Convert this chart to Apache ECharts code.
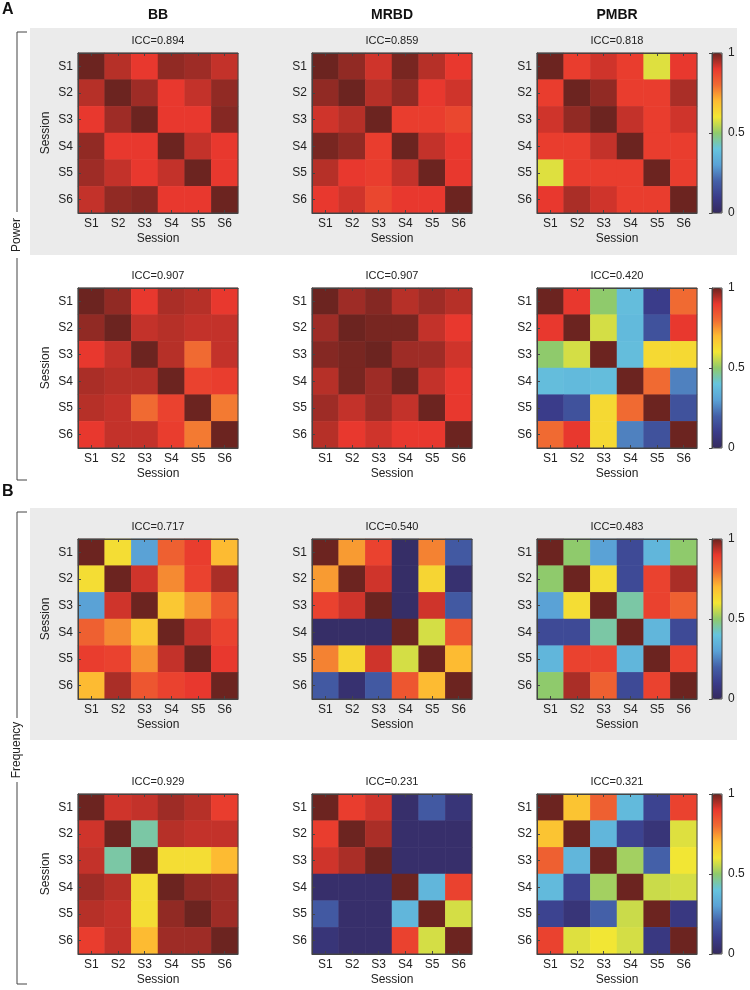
<!DOCTYPE html>
<html><head><meta charset="utf-8">
<script src="https://cdn.jsdelivr.net/npm/echarts@6/dist/echarts.min.js"></script>
<style>html,body{margin:0;padding:0;background:#fff}#c{width:750px;height:990px}</style>
</head><body><div id="c"></div>
<script>
const sessions = ['S1','S2','S3','S4','S5','S6'];
const methods = ['BB','MRBD','PMBR'];
const colorbarTicks = [0, 0.5, 1];

// Row titles (ICC)
const iccPowerTop = ['0.894','0.859','0.818'];
const iccPowerBottom = ['0.907','0.907','0.420'];
const iccFreqTop = ['0.717','0.540','0.483'];
const iccFreqBottom = ['0.929','0.231','0.321'];

// Power, top row
const powerTopBB = [
 [1.00,0.94,0.90,0.97,0.96,0.93],
 [0.94,1.00,0.96,0.90,0.93,0.97],
 [0.90,0.96,1.00,0.90,0.90,0.98],
 [0.97,0.90,0.90,1.00,0.93,0.90],
 [0.96,0.93,0.90,0.93,1.00,0.90],
 [0.93,0.97,0.98,0.90,0.90,1.00]];
const powerTopMRBD = [
 [1.00,0.97,0.92,0.99,0.94,0.90],
 [0.97,1.00,0.94,0.97,0.90,0.92],
 [0.92,0.94,1.00,0.89,0.89,0.87],
 [0.99,0.97,0.89,1.00,0.93,0.90],
 [0.94,0.90,0.89,0.93,1.00,0.90],
 [0.90,0.92,0.87,0.90,0.90,1.00]];
const powerTopPMBR = [
 [1.00,0.89,0.92,0.89,0.58,0.90],
 [0.89,1.00,0.97,0.89,0.89,0.95],
 [0.92,0.97,1.00,0.93,0.89,0.92],
 [0.89,0.89,0.93,1.00,0.89,0.89],
 [0.58,0.89,0.89,0.89,1.00,0.89],
 [0.90,0.95,0.92,0.89,0.89,1.00]];
// Power, bottom row
const powerBotBB = [
 [1.00,0.97,0.90,0.95,0.94,0.90],
 [0.97,1.00,0.93,0.94,0.93,0.93],
 [0.90,0.93,1.00,0.94,0.80,0.93],
 [0.95,0.94,0.94,1.00,0.88,0.89],
 [0.94,0.93,0.80,0.88,1.00,0.78],
 [0.90,0.93,0.93,0.89,0.78,1.00]];
const powerBotMRBD = [
 [1.00,0.96,0.98,0.94,0.96,0.94],
 [0.96,1.00,0.99,0.99,0.93,0.90],
 [0.98,0.99,1.00,0.96,0.96,0.92],
 [0.94,0.99,0.96,1.00,0.93,0.90],
 [0.96,0.93,0.96,0.93,1.00,0.90],
 [0.94,0.90,0.92,0.90,0.90,1.00]];
const powerBotPMBR = [
 [1.00,0.90,0.50,0.38,0.10,0.80],
 [0.90,1.00,0.57,0.37,0.16,0.90],
 [0.50,0.57,1.00,0.38,0.63,0.63],
 [0.38,0.37,0.38,1.00,0.80,0.25],
 [0.10,0.16,0.63,0.80,1.00,0.16],
 [0.80,0.90,0.63,0.25,0.16,1.00]];
// Frequency, top row
const freqTopBB = [
 [1.00,0.62,0.30,0.82,0.89,0.70],
 [0.62,1.00,0.92,0.76,0.88,0.95],
 [0.30,0.92,1.00,0.67,0.75,0.84],
 [0.82,0.76,0.67,1.00,0.93,0.88],
 [0.89,0.88,0.75,0.93,1.00,0.90],
 [0.70,0.95,0.84,0.88,0.90,1.00]];
const freqTopMRBD = [
 [1.00,0.74,0.88,0.02,0.77,0.18],
 [0.74,1.00,0.92,0.02,0.64,0.04],
 [0.88,0.92,1.00,0.02,0.92,0.18],
 [0.02,0.02,0.02,1.00,0.57,0.84],
 [0.77,0.64,0.92,0.57,1.00,0.70],
 [0.18,0.04,0.18,0.84,0.70,1.00]];
const freqTopPMBR = [
 [1.00,0.50,0.30,0.14,0.36,0.50],
 [0.50,1.00,0.62,0.14,0.88,0.95],
 [0.30,0.62,1.00,0.45,0.88,0.82],
 [0.14,0.14,0.45,1.00,0.36,0.14],
 [0.36,0.88,0.88,0.36,1.00,0.88],
 [0.50,0.95,0.82,0.14,0.88,1.00]];
// Frequency, bottom row
const freqBotBB = [
 [1.00,0.92,0.93,0.96,0.94,0.89],
 [0.92,1.00,0.45,0.94,0.93,0.93],
 [0.93,0.45,1.00,0.62,0.62,0.70],
 [0.96,0.94,0.62,1.00,0.97,0.96],
 [0.94,0.93,0.62,0.97,1.00,0.96],
 [0.89,0.93,0.70,0.96,0.96,1.00]];
const freqBotMRBD = [
 [1.00,0.89,0.92,0.03,0.18,0.06],
 [0.89,1.00,0.95,0.03,0.03,0.03],
 [0.92,0.95,1.00,0.03,0.03,0.03],
 [0.03,0.03,0.03,1.00,0.36,0.88],
 [0.18,0.03,0.03,0.36,1.00,0.57],
 [0.06,0.03,0.03,0.88,0.57,1.00]];
const freqBotPMBR = [
 [1.00,0.68,0.82,0.37,0.12,0.88],
 [0.68,1.00,0.36,0.12,0.06,0.58],
 [0.82,0.36,1.00,0.52,0.20,0.60],
 [0.37,0.12,0.52,1.00,0.56,0.57],
 [0.12,0.06,0.20,0.56,1.00,0.08],
 [0.88,0.58,0.60,0.57,0.08,1.00]];

const rows = [
  {icc: iccPowerTop, mats: [powerTopBB, powerTopMRBD, powerTopPMBR]},
  {icc: iccPowerBottom, mats: [powerBotBB, powerBotMRBD, powerBotPMBR]},
  {icc: iccFreqTop, mats: [freqTopBB, freqTopMRBD, freqTopPMBR]},
  {icc: iccFreqBottom, mats: [freqBotBB, freqBotMRBD, freqBotPMBR]}
];

// layout
const colLeft = [78, 312, 537];
const rowTop = [53, 288, 539, 794];
const SZ = 160;
const cbLeft = 712, cbW = 10;
const axisCol = '#444', txtCol = '#222';
const FONT = 'Liberation Sans, Arial, sans-serif';
const jet = ['#352a5e','#3a3c8a','#4460a8','#5aa2d6','#66c4de','#8fca6c','#f2e634','#fdbb32','#f06a32','#e8382e','#6c2420'];

const grid = [], xAxis = [], yAxis = [], series = [], visualMap = [];
rows.forEach((row, r) => {
  row.mats.forEach((m, c) => {
    const gi = grid.length;
    grid.push({left: colLeft[c], top: rowTop[r], width: SZ, height: SZ, show: true, borderColor: axisCol, borderWidth: 1, z: 5});
    const xb = xAxis.length;
    xAxis.push({type: 'category', data: sessions, gridIndex: gi, position: 'bottom',
      axisLine: {show: true, lineStyle: {color: axisCol}},
      axisTick: {show: true, inside: true, alignWithLabel: true, length: 3, lineStyle: {color: axisCol}},
      axisLabel: {fontSize: 12, color: txtCol, margin: 5, fontFamily: FONT},
      splitLine: {show: false}, splitArea: {show: false},
      name: 'Session', nameLocation: 'middle', nameGap: 20,
      nameTextStyle: {fontSize: 12, color: txtCol, fontFamily: FONT}, z: 6});
    xAxis.push({type: 'category', data: sessions, gridIndex: gi, position: 'top',
      axisLine: {show: true, lineStyle: {color: axisCol}},
      axisTick: {show: true, inside: true, alignWithLabel: true, length: 3, lineStyle: {color: axisCol}},
      axisLabel: {show: false}, splitLine: {show: false},
      name: 'ICC=' + row.icc[c], nameLocation: 'middle', nameGap: 7,
      nameTextStyle: {fontSize: 11, color: txtCol, fontFamily: FONT}, z: 6});
    const yi = yAxis.length;
    yAxis.push({type: 'category', data: sessions, gridIndex: gi, inverse: true,
      axisLine: {show: true, lineStyle: {color: axisCol}},
      axisTick: {show: true, inside: true, alignWithLabel: true, length: 3, lineStyle: {color: axisCol}},
      axisLabel: {fontSize: 12, color: txtCol, margin: 5, fontFamily: FONT},
      splitLine: {show: false},
      name: c === 0 ? 'Session' : '', nameLocation: 'middle', nameGap: 26, nameRotate: 90,
      nameTextStyle: {fontSize: 12, color: txtCol, fontFamily: FONT}, z: 6});
    const data = [];
    m.forEach((rowVals, i) => rowVals.forEach((v, j) => data.push([j, i, v])));
    series.push({type: 'heatmap', xAxisIndex: xb, yAxisIndex: yi, data: data,
      itemStyle: {borderWidth: 0}, emphasis: {disabled: true}, progressive: 0});
  });
  // colorbar
  visualMap.push({type: 'continuous', min: 0, max: 1, seriesIndex: [r*3, r*3+1, r*3+2],
    orient: 'vertical', left: cbLeft, top: rowTop[r], itemWidth: cbW, itemHeight: SZ,
    padding: 0, calculable: false, hoverLink: false, text: null, showLabel: false,
    inRange: {color: jet}, borderWidth: 0});
  const gi = grid.length;
  grid.push({left: cbLeft, top: rowTop[r], width: cbW, height: SZ, show: true, borderColor: axisCol, borderWidth: 1, z: 10});
  xAxis.push({type: 'value', gridIndex: gi, min: 0, max: 1, show: false});
  yAxis.push({type: 'value', gridIndex: gi, min: 0, max: 1, interval: 0.5, position: 'right', z: 10,
    axisLine: {show: true, lineStyle: {color: axisCol}},
    axisTick: {show: true, inside: true, length: 3, lineStyle: {color: axisCol}},
    axisLabel: {fontSize: 12, color: txtCol, margin: 6, fontFamily: FONT},
    splitLine: {show: false}});
});

const graphic = [
  {type: 'rect', shape: {x: 30, y: 28, width: 707, height: 227}, style: {fill: '#ebebeb'}, z: -10, silent: true},
  {type: 'rect', shape: {x: 30, y: 508, width: 707, height: 232}, style: {fill: '#ebebeb'}, z: -10, silent: true},
  {type: 'text', left: 2, top: 2, style: {text: 'A', fontSize: 16, fontWeight: 'bold', fill: '#111', fontFamily: FONT}},
  {type: 'text', left: 2, top: 484, style: {text: 'B', fontSize: 16, fontWeight: 'bold', fill: '#111', fontFamily: FONT}},
  // Power bracket
  {type: 'polyline', shape: {points: [[27, 32], [17, 32], [17, 212]]}, style: {stroke: '#444', lineWidth: 1, fill: null}},
  {type: 'polyline', shape: {points: [[17, 258], [17, 480], [27, 480]]}, style: {stroke: '#444', lineWidth: 1, fill: null}},
  {type: 'text', x: 17, y: 235, rotation: Math.PI/2, style: {text: 'Power', fontSize: 12, fill: txtCol, fontFamily: FONT, textAlign: 'center', textVerticalAlign: 'middle'}},
  // Frequency bracket
  {type: 'polyline', shape: {points: [[27, 512], [17, 512], [17, 718]]}, style: {stroke: '#444', lineWidth: 1, fill: null}},
  {type: 'polyline', shape: {points: [[17, 782], [17, 984], [27, 984]]}, style: {stroke: '#444', lineWidth: 1, fill: null}},
  {type: 'text', x: 17, y: 750, rotation: Math.PI/2, style: {text: 'Frequency', fontSize: 12, fill: txtCol, fontFamily: FONT, textAlign: 'center', textVerticalAlign: 'middle'}}
];
methods.forEach((m, c) => {
  graphic.push({type: 'text', x: colLeft[c] + SZ/2, y: 15, style: {text: m, fontSize: 14, fontWeight: 'bold', fill: '#111', fontFamily: FONT, textAlign: 'center', textVerticalAlign: 'middle'}});
});

const chart = echarts.init(document.getElementById('c'), null, {renderer: 'canvas'});
chart.setOption({
  backgroundColor: '#ffffff',
  animation: false,
  textStyle: {fontFamily: FONT},
  grid, xAxis, yAxis, series, visualMap, graphic
});
</script></body></html>
